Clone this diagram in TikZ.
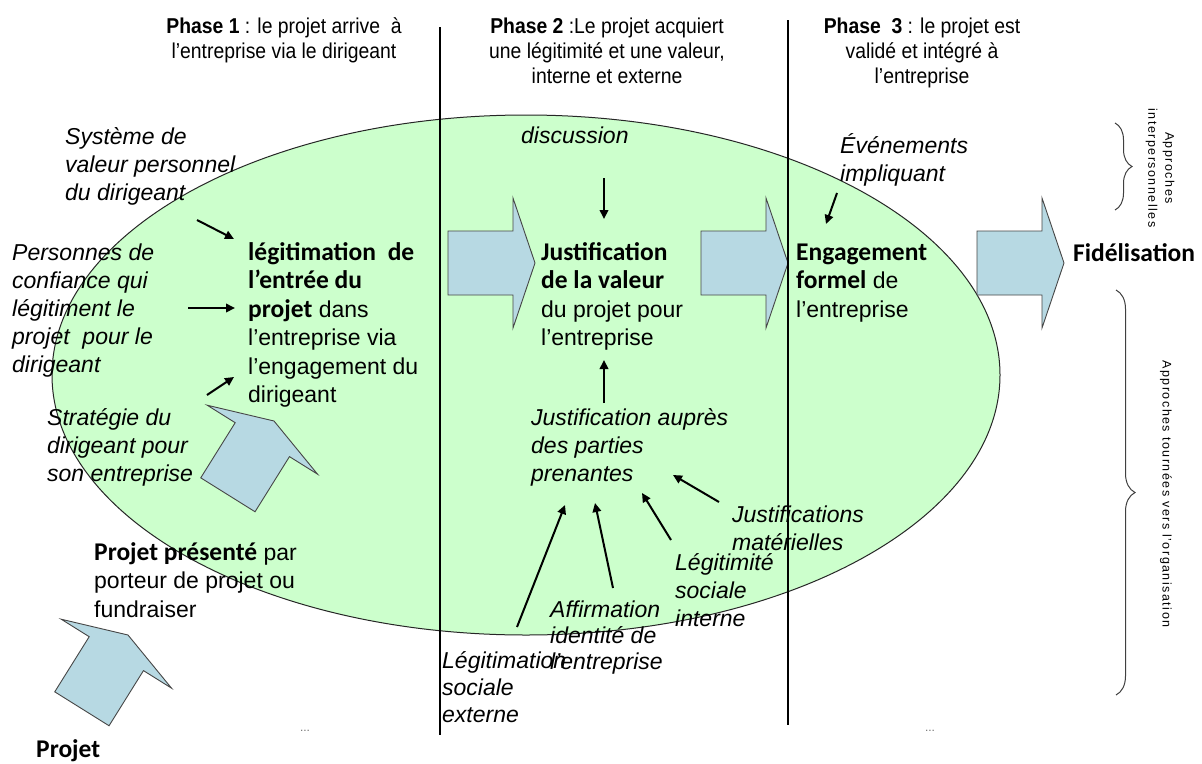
\documentclass[tikz,border=0pt]{standalone}
\usepackage{fontspec}
\setmainfont{Liberation Sans}
\newfontfamily\calib{Carlito}
\newfontfamily\ttlfont{Liberation Sans}[FakeStretch=0.9]
\usetikzlibrary{arrows.meta,decorations.pathreplacing}
\definecolor{ellgreen}{RGB}{204,255,204}
\definecolor{blockblue}{RGB}{183,217,227}
\definecolor{blockline}{RGB}{70,70,70}
\newcommand{\bd}[1]{{\calib\bfseries\fontsize{25.5}{28.5}\selectfont #1}}
\tikzset{
  txt/.style={inner sep=0pt, align=left, anchor=base west, font=\fontsize{23}{28.5}\selectfont},
  itxt/.style={inner sep=0pt, align=left, anchor=base west, font=\fontsize{23}{28}\selectfont\itshape},
  ttl/.style={inner sep=0pt, align=center, anchor=base, font=\ttlfont\fontsize{21.5}{25}\selectfont},
  conn/.style={line width=2pt, -{Triangle[length=9pt,width=8.5pt]}, draw=black},
  blockarrow/.style={fill=blockblue, draw=blockline, line width=0.9pt, line join=miter},
  phaseline/.style={line width=1.2pt, draw=black},
  bracestyle/.style={decorate, decoration={brace, amplitude=#1}, line width=1pt, draw=black!75},
  side/.style={inner sep=0pt, rotate=-90, align=center, font=\fontsize{12.5}{17}\selectfont\addfontfeature{LetterSpace=12}},
  dotsstyle/.style={inner sep=0pt, font=\fontsize{12}{12}\selectfont, text=black!55},
  blk/.pic={\draw[blockarrow] (0,0) -- (-22,-65) -- (-22,-32) -- (-87,-32) -- (-87,32) -- (-22,32) -- (-22,65) -- cycle;}
}
\begin{document}
\begin{tikzpicture}[x=1pt,y=-1pt]
\useasboundingbox (0,0) rectangle (1202,763);
\fill[white] (0,0) rectangle (1202,763);
% ellipse
\draw[fill=ellgreen, draw=black!85, line width=1pt] (526,375) ellipse [x radius=474, y radius=260];
% block arrows
\pic at (535,263) {blk};
\pic at (788,263) {blk};
\pic at (1064,263) {blk};
\pic[rotate=58] at (274,421) {blk};
\pic[rotate=58] at (128,635) {blk};
% phase lines
\coordinate (l1t) at (440,27); \coordinate (l1b) at (440,735);
\coordinate (l2t) at (788,20); \coordinate (l2b) at (788,725);
\draw[phaseline] (l1t) -- (l1b);
\draw[phaseline] (l2t) -- (l2b);
% titles (anchor = baseline of last line)
\node[ttl] (t1) at (284,58) {\textbf{Phase 1} : le projet arrive \ à\\l’entreprise via le dirigeant};
\node[ttl] (t2) at (607,83) {\textbf{Phase 2} :Le projet acquiert\\une légitimité et une valeur,\\interne et externe};
\node[ttl] (t3) at (922,83) {\textbf{Phase \ 3} : le projet est\\validé et intégré à\\l’entreprise};
% left texts
\node[itxt] (sysval) at (65,200) {Système de\\valeur personnel\\du dirigeant};
\node[itxt] (pers) at (12,372) {Personnes de\\confiance qui\\légitiment le\\projet \ pour le\\dirigeant};
\node[itxt] (strat) at (47,481) {Stratégie du\\dirigeant pour\\son entreprise};
% main texts
\node[txt] (legit) at (248,402.5) {\bd{légitimation\hspace{6pt} de}\\\bd{l’entrée du}\\\bd{projet} dans\\l’entreprise via\\l’engagement du\\dirigeant};
\node[txt] (justif) at (541,345.5) {\bd{Justification}\\\bd{de la valeur}\\du projet pour\\l’entreprise};
\node[txt] (engag) at (796,317) {\bd{Engagement}\\\bd{formel} de\\l’entreprise};
\node[txt] (fidel) at (1073,261) {\bd{Fidélisation}};
\node[itxt] (disc) at (521,143) {discussion};
\node[itxt] (event) at (840,181) {Événements\\impliquant};
\node[itxt] (jpp) at (531,481) {Justification auprès\\des parties\\prenantes};
\node[itxt] (jmat) at (732,550) {Justifications\\matérielles};
\node[itxt] (lsi) at (675,626) {Légitimité\\sociale\\interne};
\node[itxt, font=\fontsize{23}{26}\selectfont\itshape] (aff) at (550,669) {Affirmation\\identité de\\l’entreprise};
\node[itxt, font=\fontsize{23}{27}\selectfont\itshape] (lse) at (442,722) {Légitimation\\sociale\\externe};
\node[txt] (pp) at (94,617) {\bd{Projet présenté} par\\porteur de projet ou\\fundraiser};
\node[txt] (proj) at (36,757) {\bd{Projet}};
% connectors
\coordinate (a1s) at (197,220); \coordinate (a1e) at (234,239);
\coordinate (a2s) at (188,308); \coordinate (a2e) at (235,308);
\coordinate (a3s) at (207,395); \coordinate (a3e) at (234,377);
\coordinate (ads) at (604,178); \coordinate (ade) at (604,219);
\coordinate (aus) at (604,403); \coordinate (aue) at (604,360);
\coordinate (aes) at (837,193); \coordinate (aee) at (826,224);
\coordinate (ams) at (719,502); \coordinate (ame) at (673,475);
\coordinate (als) at (671,540); \coordinate (ale) at (642,493);
\coordinate (afs) at (613,588); \coordinate (afe) at (595,503);
\coordinate (axs) at (517,627); \coordinate (axe) at (565,505);
\draw[conn] (a1s) -- (a1e);
\draw[conn] (a2s) -- (a2e);
\draw[conn] (a3s) -- (a3e);
\draw[conn] (ads) -- (ade);
\draw[conn] (aus) -- (aue);
\draw[conn] (aes) -- (aee);
\draw[conn] (ams) -- (ame);
\draw[conn] (als) -- (ale);
\draw[conn] (afs) -- (afe);
\draw[conn] (axs) -- (axe);
% braces
\coordinate (b1t) at (1115,123); \coordinate (b1b) at (1115,210);
\coordinate (b2t) at (1116,290); \coordinate (b2b) at (1116,695);
\draw[bracestyle=17pt] (b1t) -- (b1b);
\draw[bracestyle=19pt] (b2t) -- (b2b);
\node[side] (ap1) at (1160,168) {Approches\\interpersonnelles};
\node[side] (ap2) at (1166,494) {Approches tournées vers l’organisation};
% dots
\node[dotsstyle] (dots1) at (305,731) {...};
\node[dotsstyle] (dots2) at (930,731) {...};
\end{tikzpicture}
\end{document}
